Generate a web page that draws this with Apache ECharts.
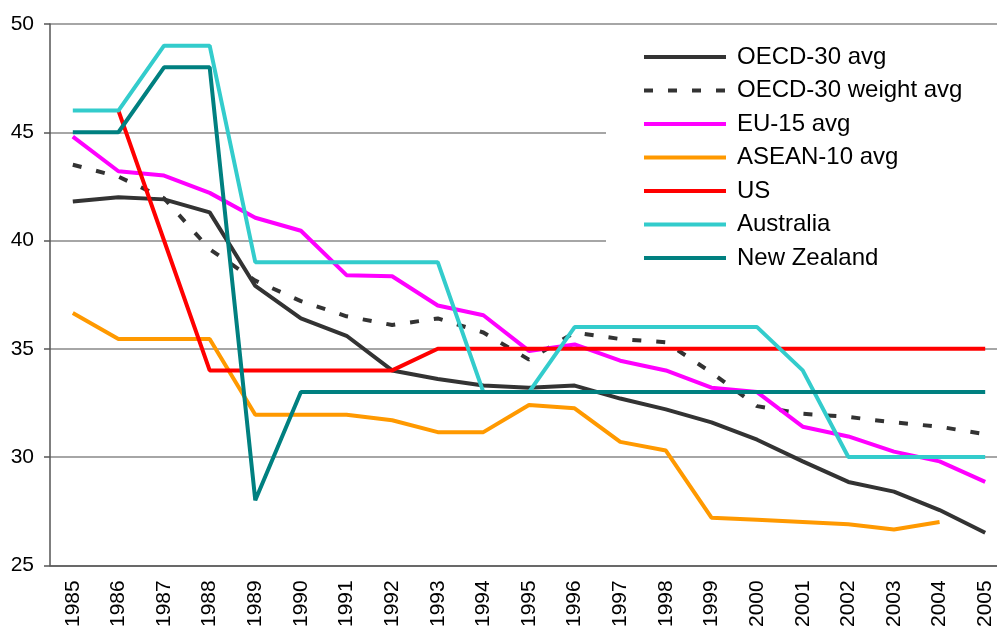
<!DOCTYPE html>
<html>
<head>
<meta charset="utf-8">
<script src="https://cdn.jsdelivr.net/npm/echarts@6/dist/echarts.min.js"></script>
<style>
  html, body { margin: 0; padding: 0; background: #fff; overflow: hidden; }
  #chart { width: 1008px; height: 630px; }
</style>
</head>
<body>
<div id="chart"></div>
<script>
// 年份
var years = ['1985','1986','1987','1988','1989','1990','1991','1992','1993','1994','1995',
             '1996','1997','1998','1999','2000','2001','2002','2003','2004','2005'];

var oecdAvg = [41.8, 42.0, 41.9, 41.3, 37.9, 36.4, 35.6, 34.0, 33.6, 33.3, 33.2,
               33.3, 32.7, 32.2, 31.6, 30.8, 29.8, 28.85, 28.4, 27.55, 26.5];
var oecdWeight = [43.5, 42.95, 41.95, 39.6, 38.15, 37.2, 36.5, 36.1, 36.4, 35.75, 34.5,
                  35.75, 35.45, 35.3, 33.9, 32.35, 32.0, 31.85, 31.6, 31.4, 31.05];
var eu15 = [44.8, 43.2, 43.0, 42.2, 41.05, 40.45, 38.4, 38.35, 37.0, 36.55, 34.9,
            35.2, 34.45, 34.0, 33.2, 33.0, 31.4, 30.95, 30.25, 29.8, 28.85];
var asean10 = [36.65, 35.45, 35.45, 35.45, 31.95, 31.95, 31.95, 31.7, 31.15, 31.15, 32.4,
               32.25, 30.7, 30.3, 27.2, 27.1, 27.0, 26.9, 26.65, 27.0, null];
var us = [null, 46, 40, 34, 34, 34, 34, 34, 35, 35, 35,
          35, 35, 35, 35, 35, 35, 35, 35, 35, 35];
var australia = [46, 46, 49, 49, 39, 39, 39, 39, 39, 33, 33,
                 36, 36, 36, 36, 36, 34, 30, 30, 30, 30];
var newZealand = [45, 45, 48, 48, 28, 33, 33, 33, 33, 33, 33,
                  33, 33, 33, 33, 33, 33, 33, 33, 33, 33];

var yMin = 25, yMax = 50, yStep = 5;

var font = "'Liberation Sans', Arial, sans-serif";

function line(name, data, color, dash) {
  return {
    name: name,
    type: 'line',
    data: data,
    symbol: 'none',
    connectNulls: false,
    lineStyle: { color: color, width: 4, type: dash || 'solid', cap: 'butt' },
    itemStyle: { color: color }
  };
}

var chart = echarts.init(document.getElementById('chart'));
var option = {
  animation: false,
  backgroundColor: '#fff',
  textStyle: { fontFamily: font },
  grid: { left: 50, top: 24, right: 0, bottom: 63, containLabel: false },
  legend: {
    orient: 'vertical',
    left: 606,
    top: 28,
    padding: [17, 50, 12, 36],
    backgroundColor: '#fff',
    itemWidth: 82,
    itemHeight: 20,
    itemGap: 9.5,
    itemStyle: { opacity: 0 },
    lineStyle: { width: 4 },
    textStyle: { color: '#000', fontSize: 24, fontFamily: font, lineHeight: 24, padding: [0, 0, 0, 6] },
    data: ['OECD-30 avg', 'OECD-30 weight avg', 'EU-15 avg', 'ASEAN-10 avg', 'US', 'Australia', 'New Zealand']
  },
  xAxis: {
    type: 'category',
    data: years,
    boundaryGap: true,
    axisLine: { lineStyle: { color: '#555', width: 1.5 } },
    axisTick: { length: 6, lineStyle: { color: '#555', width: 1.5 } },
    axisLabel: { rotate: 90, margin: 15, color: '#000', fontSize: 21, fontFamily: font, interval: 0 },
    splitLine: { show: false }
  },
  yAxis: {
    type: 'value',
    min: yMin,
    max: yMax,
    interval: yStep,
    axisLine: { show: true, lineStyle: { color: '#555', width: 1.5 } },
    axisTick: { show: true, length: 6, lineStyle: { color: '#555', width: 1.5 } },
    axisLabel: { margin: 16, color: '#000', fontSize: 21, fontFamily: font },
    splitLine: { show: true, lineStyle: { color: '#888', width: 1.5 } }
  },
  series: [
    line('OECD-30 avg', oecdAvg, '#333333'),
    line('OECD-30 weight avg', oecdWeight, '#333333', [9, 15]),
    line('EU-15 avg', eu15, '#ff00ff'),
    line('ASEAN-10 avg', asean10, '#ff9900'),
    line('US', us, '#ff0000'),
    line('Australia', australia, '#33cccc'),
    line('New Zealand', newZealand, '#008080')
  ]
};
chart.setOption(option);
</script>
</body>
</html>
